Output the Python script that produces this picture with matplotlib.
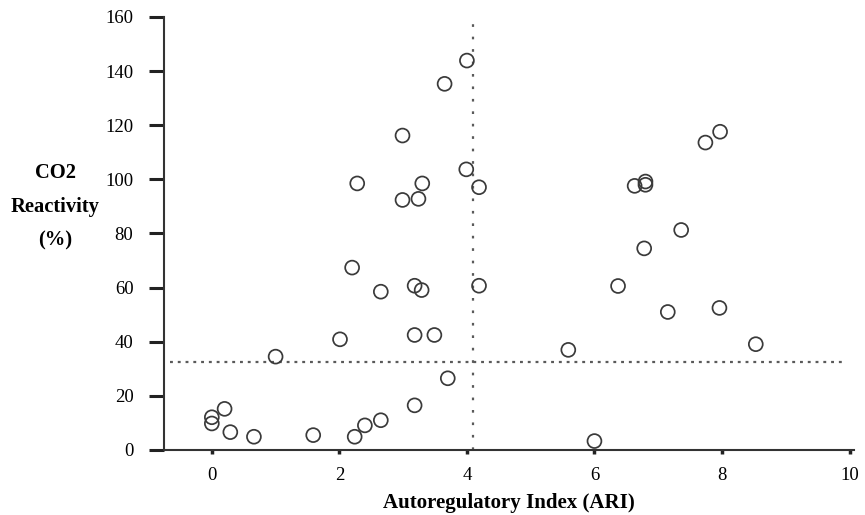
import matplotlib
matplotlib.use("Agg")
import matplotlib.pyplot as plt

# Autoregulatory Index (ARI) and CO2 reactivity (%)
ari = [4.0, 3.65, 2.99, 2.28, 3.30, 2.99, 3.24, 3.99, 4.19, 2.20, 2.65, 3.18, 3.29, 4.19,
       7.97, 7.74, 6.63, 6.80, 6.80, 7.36, 6.78, 6.37, 7.15, 7.96, 8.53,
       5.59, 6.0,
       2.01, 1.0, 3.18, 3.49, 3.70, 3.18,
       0.0, 0.0, 0.2, 0.29, 0.66, 1.59, 2.24, 2.40, 2.65]
co2 = [143.9, 135.3, 116.2, 98.5, 98.5, 92.4, 92.8, 103.7, 97.1, 67.4, 58.5, 60.7, 59.1, 60.7,
       117.6, 113.6, 97.6, 98.0, 99.2, 81.3, 74.5, 60.6, 51.0, 52.5, 39.1,
       37.0, 3.3,
       40.9, 34.5, 42.5, 42.5, 26.5, 16.5,
       12.1, 9.8, 15.2, 6.6, 4.9, 5.5, 4.9, 9.1, 11.0]

ari_cut = 4.1
co2_cut = 32.4
xticks = [0, 2, 4, 6, 8, 10]
yticks = [0, 20, 40, 60, 80, 100, 120, 140, 160]

plt.rcParams['font.family'] = ['Liberation Serif', 'DejaVu Serif']

fig = plt.figure(figsize=(8.65, 5.15), dpi=100)
ax = fig.add_axes([164/865, 1-450/515, (854-164)/865, (450-17)/515])

ax.set_xlim(-0.75, 10.07)
ax.set_ylim(0, 160)

ax.plot([ari_cut, ari_cut], [0, 160], linestyle=(0, (1.2, 4.4)), color='#5a5a5a', lw=1.6, zorder=1)
ax.plot([-0.65, 9.95], [co2_cut, co2_cut], linestyle=(0, (1.3, 2.2)), color='#5a5a5a', lw=1.6, zorder=1)

ax.scatter(ari, co2, s=100, facecolors='none', edgecolors='#3a3a3a', linewidths=1.25, zorder=3, clip_on=False)

for s in ['top', 'right']:
    ax.spines[s].set_visible(False)
for s in ['left', 'bottom']:
    ax.spines[s].set_linewidth(1.5)
    ax.spines[s].set_color('#333333')

ax.set_xticks(xticks)
ax.set_yticks(yticks)
ax.tick_params(axis='y', direction='out', length=11, width=2.2, color='#222222', labelsize=13.5, pad=11)
ax.tick_params(axis='x', direction='out', length=3, width=2.5, color='#222222', labelsize=13.5, pad=9)

ax.set_xlabel('Autoregulatory Index (ARI)', fontsize=15, fontweight='bold', labelpad=7)
fig.text(55/865, 1-207/515, 'CO2\nReactivity\n(%)', ha='center', va='center',
         fontsize=14.8, fontweight='bold', linespacing=1.9)

fig.savefig('out.png', dpi=100)
